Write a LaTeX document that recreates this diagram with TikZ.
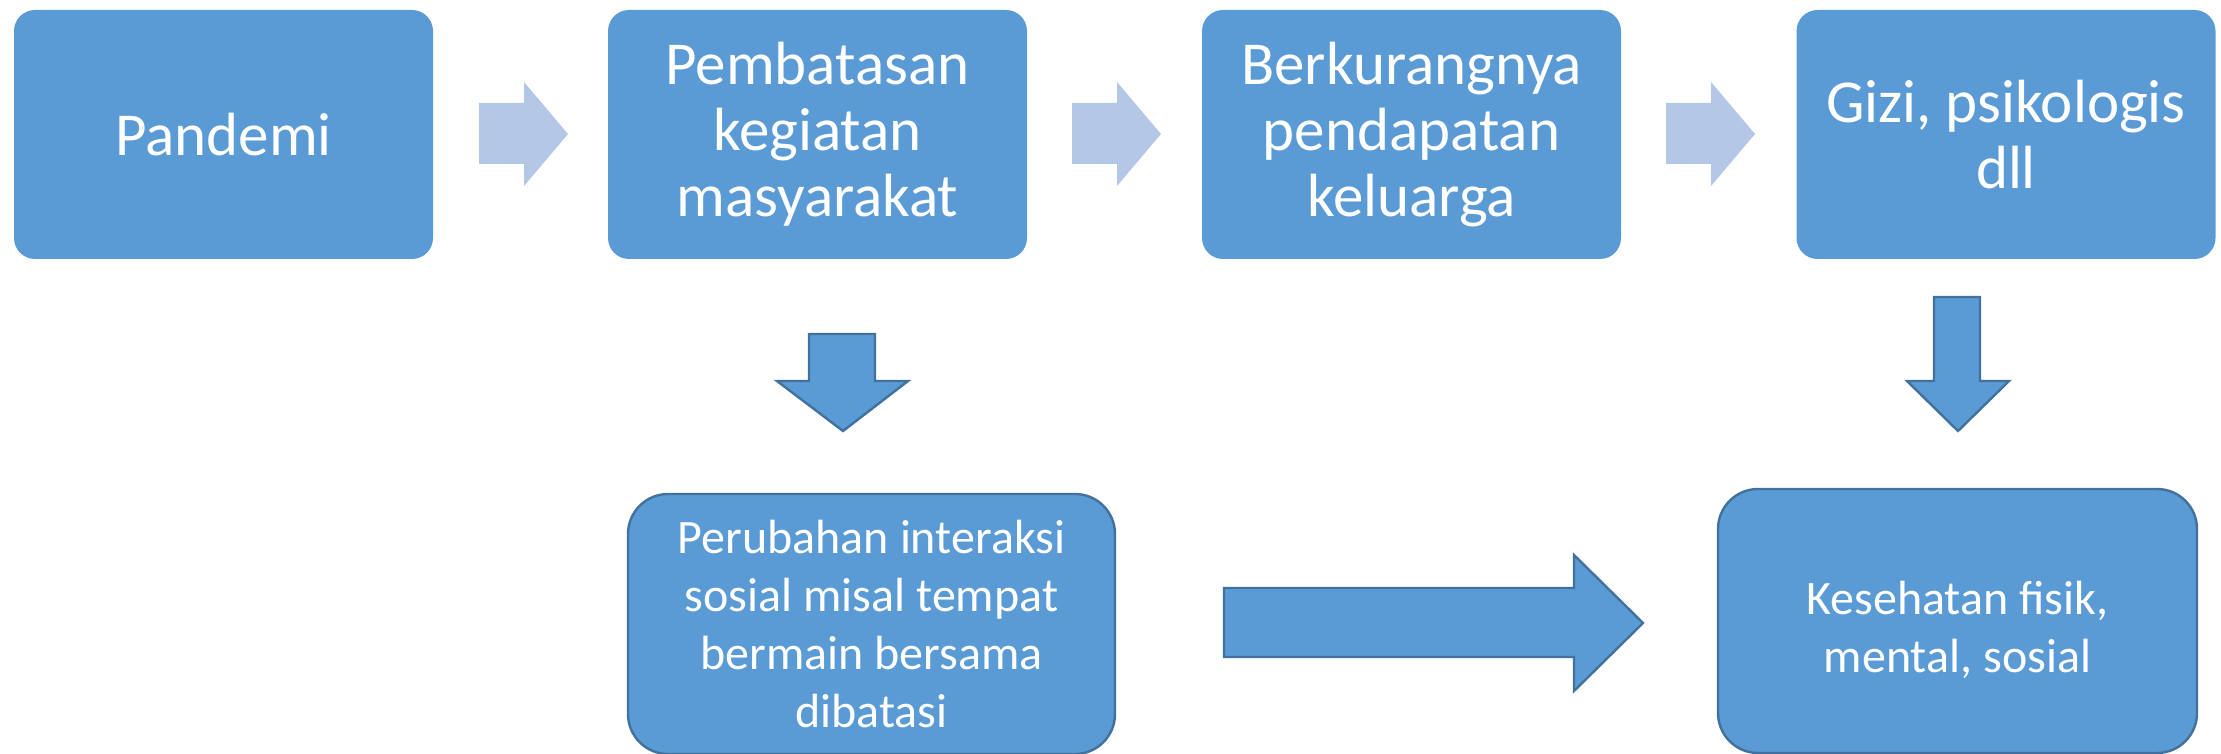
\documentclass[tikz,border=0pt]{standalone}
\usepackage{fontspec}
\setmainfont{Carlito}
\definecolor{boxblue}{HTML}{5B9BD5}
\definecolor{edgeblue}{HTML}{41719C}
\definecolor{lightarrow}{HTML}{B4C7E7}
\tikzset{
  topbox/.style={fill=boxblue, draw=none, rounded corners=10.5pt, minimum width=209.5pt, minimum height=124.5pt, inner sep=0pt, align=center, text=white, font=\fontsize{30.5}{33}\selectfont},
  botbox/.style={fill=boxblue, draw=edgeblue, line width=1.2pt, rounded corners=20pt, inner sep=0pt, align=center, text=white, font=\fontsize{24}{29}\selectfont},
  bottext/.style={inner sep=0pt, align=center, text=white, font=\fontsize{24}{29}\selectfont},
  lightarr/.style={fill=lightarrow, draw=none},
  darkarr/.style={fill=boxblue, draw=edgeblue, line width=1.2pt},
}
\begin{document}
\begin{tikzpicture}[x=0.5pt,y=-0.5pt]
\useasboundingbox (0,0) rectangle (2221,754);
\node[topbox] (pandemi) at (223.5,134.5) {Pandemi};
\node[topbox] (pembatasan) at (817.5,134.5) {Pembatasan\\kegiatan\\masyarakat};
\node[topbox] (pendapatan) at (1411.5,134.5) {Berkurangnya\\pendapatan\\keluarga};
\node[topbox] (gizi) at (2006,134.5) {Gizi, psikologis\\dll};
\node[botbox, minimum width=243.5pt, minimum height=130pt] (interaksi) at (871.5,624) {Perubahan interaksi\\sosial misal tempat\\bermain bersama\\dibatasi};
\node[botbox, minimum width=239.5pt, minimum height=132pt] (kesehatan) at (1957.5,621) {};
\node[bottext] (kestext) at ([yshift=-4.5pt]kesehatan.center) {Kesehatan fisik,\\mental, sosial};
% light right arrows
\draw[lightarr] (479,103) -- (524,103) -- (524,82) -- (568,134) -- (524,186) -- (524,164) -- (479,164) -- cycle;
\draw[lightarr] (1072,103) -- (1117,103) -- (1117,82) -- (1161,134) -- (1117,186) -- (1117,164) -- (1072,164) -- cycle;
\draw[lightarr] (1666,103) -- (1711,103) -- (1711,82) -- (1755,134) -- (1711,186) -- (1711,164) -- (1666,164) -- cycle;
% down arrows
\draw[darkarr] (809,334) -- (875,334) -- (875,381) -- (908,381) -- (843,431) -- (777,381) -- (809,381) -- cycle;
\draw[darkarr] (1934,297) -- (1980,297) -- (1980,381) -- (2009,381) -- (1958,431) -- (1907,381) -- (1934,381) -- cycle;
% big right arrow
\draw[darkarr] (1224,588) -- (1574,588) -- (1574,555) -- (1643,623) -- (1574,691) -- (1574,657) -- (1224,657) -- cycle;
\end{tikzpicture}
\end{document}
